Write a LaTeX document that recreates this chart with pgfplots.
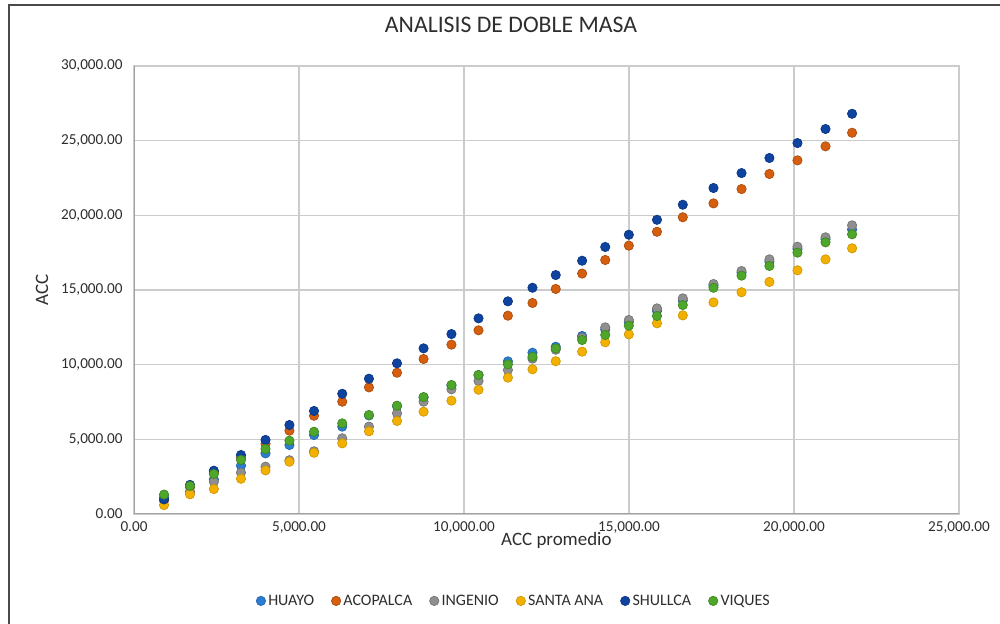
\documentclass[border=0pt]{standalone}
\usepackage{pgfplots}
\pgfplotsset{compat=1.18}
\usepackage{pgfplotstable}
\usepackage{fontspec}
\setmainfont{Carlito}

\definecolor{huayo}{HTML}{2B7CD3}
\definecolor{acopalca}{HTML}{D55E0F}
\definecolor{ingenio}{HTML}{8F8F8F}
\definecolor{santaana}{HTML}{F2B000}
\definecolor{shullca}{HTML}{0E43A0}
\definecolor{viques}{HTML}{4EA72A}
\definecolor{gridgray}{HTML}{CCCCCC}
\definecolor{axisgray}{HTML}{A0A0A0}
\definecolor{txt}{HTML}{2E2E2E}
\definecolor{framegray}{HTML}{4A4A4A}

% accumulated precipitation: station mean vs. each station
\pgfplotstableread{
prom  huayo acopalca ingenio santaana shullca viques
910   1100  900   1000  600   980   1300
1697  1850  1800  1500  1320  1950  1880
2420  2320  2800  2160  1670  2900  2680
3242  3240  3750  2770  2360  3950  3620
3985  4060  4700  3170  2920  4960  4350
4710  4620  5580  3600  3500  5960  4910
5455  5290  6580  4200  4100  6900  5510
6310  5850  7520  5070  4730  8050  6070
7120  6600  8480  5850  5540  9060  6630
7970  7220  9460  6740  6230  10090 7250
8775  7800  10380 7520  6850  11090 7830
9620  8600  11340 8350  7590  12050 8640
10440 9300  12300 8910  8320  13100 9310
11330 10220 13280 9640  9130  14240 10020
12075 10800 14130 10400 9690  15150 10530
12780 11200 15070 11000 10230 16000 11090
13580 11920 16100 11800 10870 16960 11650
14280 12350 17010 12500 11500 17880 11990
14995 12850 17970 12990 12030 18700 12610
15848 13600 18900 13770 12770 19700 13260
16630 14300 19870 14440 13300 20710 13990
17560 15300 20800 15400 14170 21830 15150
18410 16150 21760 16270 14850 22830 15960
19255 16900 22770 17050 15540 23840 16610
20105 17750 23680 17900 16320 24840 17500
20955 18400 24620 18530 17050 25780 18190
21760 19050 25530 19330 17790 26800 18730
}\datatable

\begin{document}
\begin{tikzpicture}
\useasboundingbox (0pt,0pt) rectangle (750pt,468pt);
% chart-area frame
\draw[framegray, line width=1.4pt] (6.75pt,-2pt) -- (6.75pt,464.25pt) -- (752pt,464.25pt);
\begin{axis}[
  at={(100.5pt,82.5pt)}, anchor=south west,
  scale only axis,
  width=618.75pt, height=336pt,
  xmin=0, xmax=25000, ymin=0, ymax=30000,
  xtick={0,5000,...,25000},
  ytick={0,5000,...,30000},
  scaled ticks=false,
  xticklabel style={/pgf/number format/.cd,fixed,fixed zerofill,precision=2,1000 sep={,},assume math mode=true},
  yticklabel style={/pgf/number format/.cd,fixed,fixed zerofill,precision=2,1000 sep={,},assume math mode=true},
  tick label style={font=\fontsize{11.4pt}{13pt}\selectfont, text=txt},
  major tick length=0pt,
  xticklabel shift=2pt,
  yticklabel shift=5pt,
  grid=major,
  major grid style={gridgray, line width=1.2pt},
  axis line style={gridgray, line width=1.2pt},
  title={ANALISIS DE DOBLE MASA},
  title style={font=\fontsize{17.8pt}{20pt}\selectfont, text=txt, at={(axis description cs:0.457,1.074)}, anchor=center},
  xlabel={ACC promedio},
  ylabel={ACC},
  label style={font=\fontsize{14.2pt}{16pt}\selectfont, text=txt},
  xlabel style={at={(axis description cs:0.512,-0.058)}, anchor=center},
  ylabel style={at={(axis description cs:-0.1115,0.5)}, anchor=center},
  legend columns=6,
  legend style={at={(axis description cs:0.461,-0.194)}, anchor=center, draw=none,
    font=\fontsize{12pt}{14pt}\selectfont, text=txt,
    /tikz/every even column/.append style={column sep=11pt}},
  legend image code/.code={\draw[#1, mark repeat=2, mark phase=2] plot coordinates {(0pt,0pt) (4pt,0pt) (8pt,0pt)};},
  every axis plot/.append style={only marks, mark=*, mark size=3.5pt, line width=0.5pt},
]
\draw[axisgray, line width=1.3pt] (rel axis cs:0,1) -- (rel axis cs:0,0) -- (rel axis cs:1,0);
\addplot[draw=huayo!80!black, fill=huayo] table[x=prom, y=huayo] {\datatable};
\addlegendentry{HUAYO}
\addplot[draw=acopalca!80!black, fill=acopalca] table[x=prom, y=acopalca] {\datatable};
\addlegendentry{ACOPALCA}
\addplot[draw=ingenio!80!black, fill=ingenio] table[x=prom, y=ingenio] {\datatable};
\addlegendentry{INGENIO}
\addplot[draw=santaana!85!black, fill=santaana] table[x=prom, y=santaana] {\datatable};
\addlegendentry{SANTA ANA}
\addplot[draw=shullca!80!black, fill=shullca] table[x=prom, y=shullca] {\datatable};
\addlegendentry{SHULLCA}
\addplot[draw=viques!80!black, fill=viques] table[x=prom, y=viques] {\datatable};
\addlegendentry{VIQUES}
\end{axis}
\end{tikzpicture}
\end{document}
